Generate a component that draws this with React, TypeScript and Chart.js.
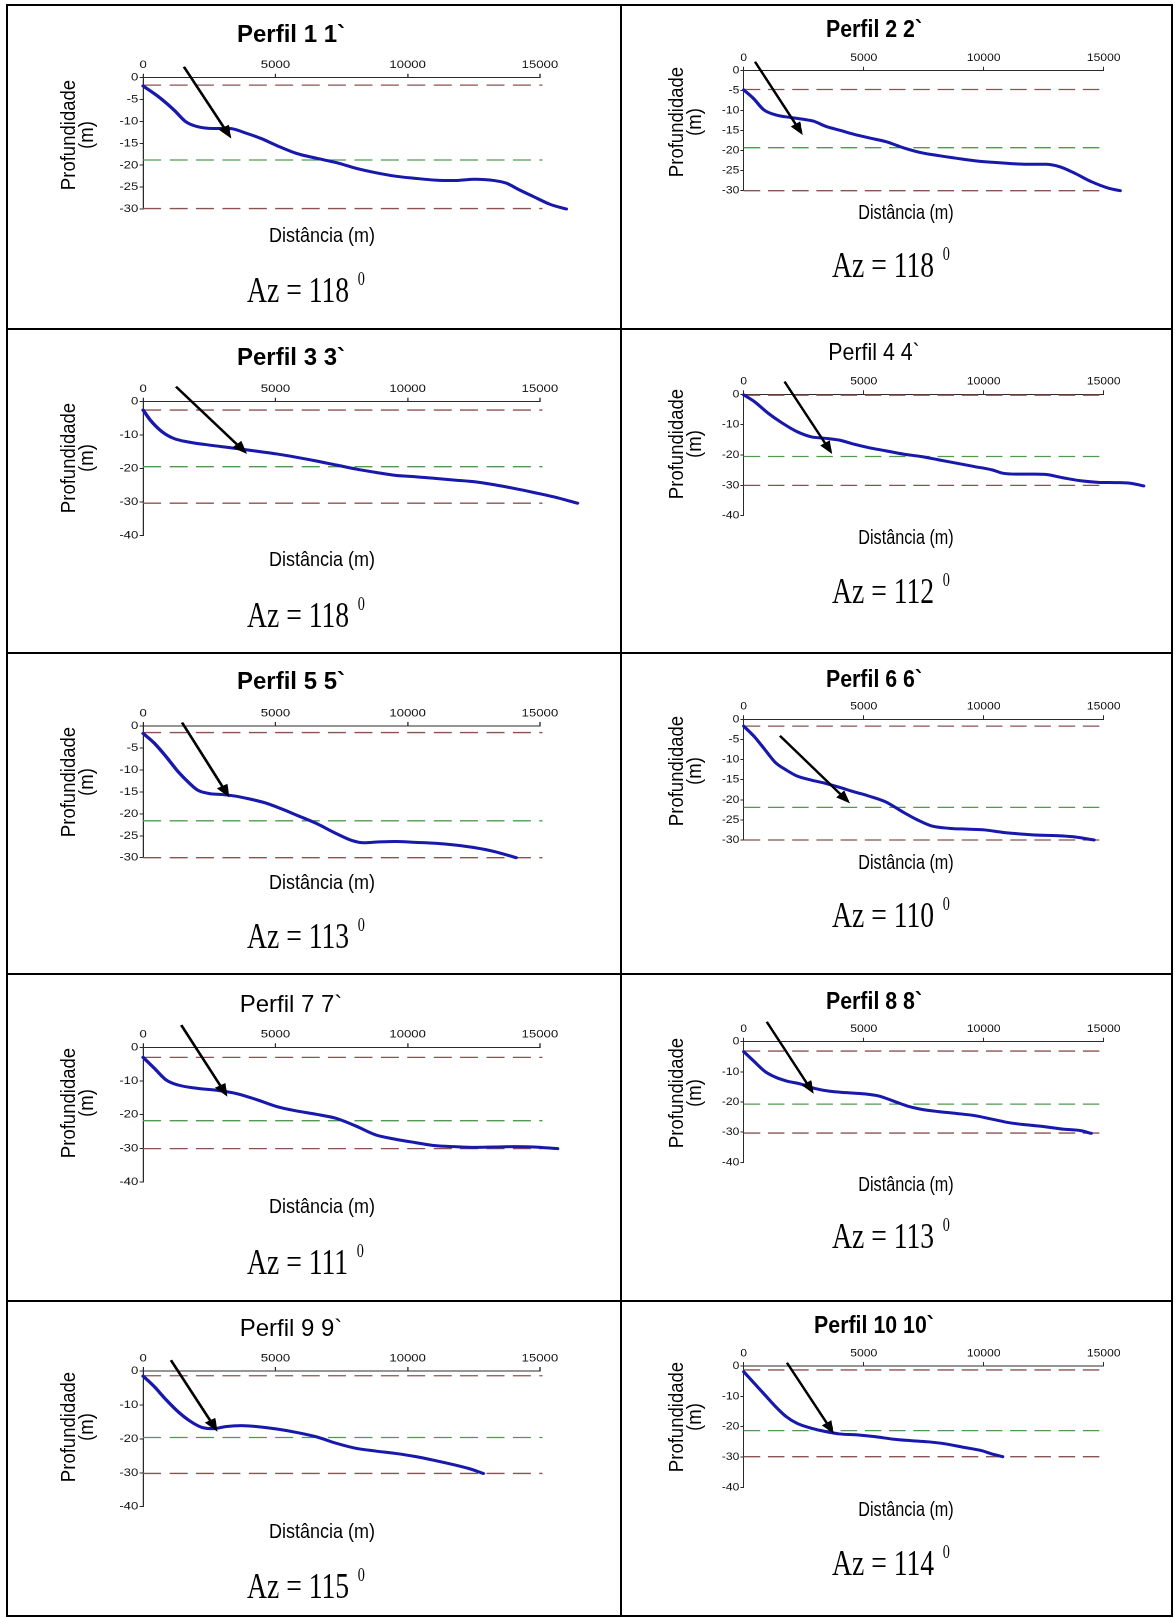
import React, { useEffect, useRef } from "react";
import { Chart, registerables } from "chart.js";
Chart.register(...registerables);

// ---------- data ----------
const TITLES = ["Perfil 1 1`", "Perfil 2 2`", "Perfil 3 3`", "Perfil 4 4`", "Perfil 5 5`", "Perfil 6 6`", "Perfil 7 7`", "Perfil 8 8`", "Perfil 9 9`", "Perfil 10 10`"];
const TITLE_BOLD = [true, true, true, false, true, true, false, true, false, true];
const AZIMUTHS = [118, 118, 118, 112, 113, 110, 111, 113, 115, 114];
const X_AXIS_TITLE = "Distância (m)";
const Y_AXIS_TITLE = ["Profundidade", "(m)"];

const X_TICKS = [0, 5000, 10000, 15000];
const Y_TICKS_30 = [0, -5, -10, -15, -20, -25, -30];
const Y_TICKS_40 = [0, -10, -20, -30, -40];
const Y_MIN = [-30, -30, -40, -40, -30, -30, -40, -40, -40, -40];

const P1_X = [0, 570, 1170, 1620, 2060, 2660, 3260, 3860, 4460, 5050, 5800, 6550, 7300, 8050, 8790, 9540, 10290, 11040, 11780, 12530, 13280, 13730, 14180, 14770, 15370, 16000];
const P1_Y = [-1.9, -4.3, -7.4, -10.1, -11.2, -11.6, -11.6, -12.6, -13.9, -15.5, -17.3, -18.4, -19.4, -20.7, -21.7, -22.5, -23.0, -23.4, -23.5, -23.2, -23.5, -24.1, -25.5, -27.2, -28.9, -30.0];
const P2_X = [0, 400, 840, 1360, 1950, 2540, 2900, 3420, 4010, 4600, 5190, 5930, 6670, 7400, 8140, 8880, 9620, 10360, 11090, 11830, 12570, 13160, 13750, 14490, 15220, 15690];
const P2_Y = [-4.8, -6.9, -9.8, -11.1, -11.7, -12.2, -12.6, -13.9, -14.9, -15.9, -16.75, -17.75, -19.3, -20.5, -21.25, -21.9, -22.5, -22.9, -23.2, -23.4, -23.4, -24.0, -25.5, -27.75, -29.4, -30];
const P3_X = [0, 270, 720, 1170, 1760, 2360, 2960, 3560, 4310, 5050, 5800, 6550, 7300, 8050, 8790, 9540, 10290, 11040, 11780, 12530, 13280, 14030, 14770, 15520, 16420];
const P3_Y = [-2.5, -5.5, -9.0, -11.0, -12.1, -12.8, -13.4, -14.0, -14.8, -15.6, -16.6, -17.7, -18.9, -20.1, -21.1, -22.0, -22.4, -22.9, -23.4, -23.9, -24.8, -25.9, -27.1, -28.4, -30.3];
const P4_X = [0, 440, 1030, 1630, 2220, 2810, 3400, 3990, 4580, 5170, 5910, 6650, 7390, 8130, 8870, 9610, 10350, 10790, 11380, 12120, 12560, 13300, 14040, 14780, 15520, 16110, 16670];
const P4_Y = [-0.2, -2.4, -6.3, -9.6, -12.3, -14.0, -14.5, -15.1, -16.4, -17.5, -18.6, -19.7, -20.5, -21.6, -22.7, -23.8, -24.9, -26.0, -26.3, -26.3, -26.4, -27.5, -28.5, -29.0, -29.1, -29.3, -30.2];
const P5_X = [0, 420, 870, 1320, 1760, 2060, 2510, 2960, 3410, 4010, 4610, 5200, 5800, 6550, 7300, 7900, 8340, 8940, 9540, 10290, 11040, 11780, 12530, 13280, 14100];
const P5_Y = [-1.7, -3.9, -7.0, -10.4, -13.1, -14.6, -15.4, -15.6, -15.9, -16.6, -17.5, -18.8, -20.3, -22.2, -24.5, -26.1, -26.6, -26.4, -26.3, -26.5, -26.7, -27.1, -27.7, -28.6, -30.0];
const P6_X = [0, 440, 890, 1330, 1770, 2220, 2810, 3400, 3990, 4580, 5170, 5910, 6650, 7240, 7830, 8570, 9310, 10050, 10790, 11530, 12270, 13010, 13740, 14600];
const P6_Y = [-1.7, -4.3, -7.6, -10.8, -12.6, -14.1, -15.1, -15.9, -16.9, -18.0, -19.0, -20.5, -23.1, -25.0, -26.5, -27.1, -27.3, -27.5, -28.1, -28.5, -28.8, -28.9, -29.2, -30.0];
const P7_X = [0, 420, 870, 1320, 2060, 2810, 3560, 4310, 5050, 5800, 6550, 7300, 8050, 8790, 9540, 10290, 11040, 11780, 12530, 13280, 14030, 14770, 15670];
const P7_Y = [-3.0, -6.2, -9.7, -11.2, -12.2, -12.8, -13.8, -15.6, -17.6, -18.9, -19.9, -21.1, -23.4, -26.0, -27.3, -28.3, -29.2, -29.5, -29.7, -29.6, -29.5, -29.6, -30.1];
const P8_X = [0, 440, 890, 1330, 1770, 2360, 2960, 3550, 4290, 5030, 5620, 6210, 6800, 7390, 8130, 8870, 9610, 10350, 11090, 11820, 12560, 13300, 14040, 14480];
const P8_Y = [-3.3, -6.6, -9.9, -11.8, -13.0, -14.0, -15.5, -16.4, -16.9, -17.3, -18.0, -19.6, -21.3, -22.4, -23.2, -23.8, -24.5, -25.7, -26.9, -27.6, -28.2, -29.0, -29.5, -30.4];
const P9_X = [0, 420, 870, 1320, 1760, 2210, 2660, 3110, 3710, 4310, 5050, 5800, 6550, 7300, 8050, 8790, 9540, 10290, 11040, 11780, 12380, 12860];
const P9_Y = [-1.5, -4.6, -8.5, -12.0, -14.7, -16.6, -17.0, -16.4, -16.1, -16.4, -17.1, -18.1, -19.4, -21.3, -22.8, -23.6, -24.3, -25.2, -26.4, -27.7, -28.9, -30.2];
const P10_X = [0, 440, 890, 1330, 1770, 2220, 2810, 3400, 3990, 4730, 5470, 6210, 6950, 7690, 8420, 9160, 9900, 10340, 10790];
const P10_Y = [-1.9, -5.7, -9.6, -13.4, -16.7, -18.9, -20.5, -21.6, -22.4, -22.7, -23.3, -24.1, -24.6, -25.0, -25.7, -26.8, -27.9, -29.0, -29.9];

const PROFILE_X = [P1_X, P2_X, P3_X, P4_X, P5_X, P6_X, P7_X, P8_X, P9_X, P10_X];
const PROFILE_Y = [P1_Y, P2_Y, P3_Y, P4_Y, P5_Y, P6_Y, P7_Y, P8_Y, P9_Y, P10_Y];

// reference depth levels (dashed lines)
const LEVEL_TOP = [-1.7, -4.7, -2.5, -0.3, -1.5, -1.7, -3.0, -3.1, -1.4, -1.3];
const LEVEL_MID = [-18.8, -19.25, -19.4, -20.5, -21.6, -21.9, -21.8, -20.7, -19.6, -21.3];
const LEVEL_BOTTOM = [-29.9, -30, -30.3, -30, -30, -30, -30.1, -30.3, -30.2, -29.9];
const LEVEL_X_END = 15100;

// arrows (data units)
const ARROW_FROM_X = [1540, 470, 1240, 1700, 1470, 1510, 1440, 960, 1050, 1800];
const ARROW_FROM_Y = [2.5, 2.25, 4.5, 4.2, 0.8, -4.1, 6.6, 6.6, 3.2, 1.1];
const ARROW_TO_X = [3330, 2460, 3930, 3690, 3260, 4430, 3190, 2920, 2810, 3760];
const ARROW_TO_Y = [-13.9, -16.1, -15.6, -19.7, -16.3, -20.9, -14.7, -17.3, -17.9, -22.4];

// ---------- layout / style ----------
const SANS = "'Liberation Sans', Arial, Helvetica, sans-serif";
const SERIF = "'Liberation Serif', 'Times New Roman', serif";
const BLUE = "#1818ac";
const BROWN = "#8a5252";
const GREEN = "#4f9a4f";
const AXIS = "#2a2a2a";

const COL_CANVAS_LEFT = [10, 624];
const COL_CANVAS_PAGE_W = [605, 544];
const COL_STRETCH = [1.2, 1.1];
const ROW_CANVAS_TOP = [6, 330, 654, 975, 1302];
const AXIS_LEFT = [143.1, 743.6];
const AXIS_RIGHT = [539.7, 1103.2];
const AXIS_TOP = [77.7, 70.7, 401.7, 394.3, 726, 719.3, 1047.3, 1041.7, 1371, 1366];
const AXIS_BOTTOM = [209, 190.7, 535.7, 515.7, 857.7, 840, 1182, 1162.3, 1506.7, 1487.3];

const TITLE_X = [291, 874];
const TITLE_SX = [1.0, 0.89];
const TITLE_BASE = [42, 37, 365, 360, 689, 687, 1012, 1009, 1336, 1333];
const XT_X = [322, 906];
const XT_SX = [1.0, 0.9];
const XT_BASE = [242.5, 219.5, 566.5, 544.5, 889.5, 869.5, 1213.5, 1191.5, 1538.5, 1516.5];
const YT_X = [77, 685];
const YT_Y = [135, 122, 458, 444, 782, 771, 1103, 1093, 1427, 1417];
const AZ_X = [247, 831.5];
const AZ_SX = 0.79;
const AZ_BASE = [302, 277, 627, 603, 948, 927, 1274, 1248, 1598, 1575];

const arrowPlugin = {
  id: "arrow",
  afterDatasetsDraw(chart: any, _args: any, opts: any) {
    const { ctx } = chart;
    const xs = chart.scales.x;
    const ys = chart.scales.y;
    const x1 = xs.getPixelForValue(opts.fx);
    const y1 = ys.getPixelForValue(opts.fy);
    const x2 = xs.getPixelForValue(opts.tx);
    const y2 = ys.getPixelForValue(opts.ty);
    const ang = Math.atan2(y2 - y1, x2 - x1);
    const c = Math.cos(ang);
    const s = Math.sin(ang);
    const headLen = 13;
    const headW = 5;
    const bx = x2 - headLen * c;
    const by = y2 - headLen * s;
    ctx.save();
    ctx.strokeStyle = "#000";
    ctx.fillStyle = "#000";
    ctx.lineWidth = 2.3;
    ctx.beginPath();
    ctx.moveTo(x1, y1);
    ctx.lineTo(bx + c, by + s);
    ctx.stroke();
    ctx.beginPath();
    ctx.moveTo(x2, y2);
    ctx.lineTo(bx + headW * s, by - headW * c);
    ctx.lineTo(bx - headW * s, by + headW * c);
    ctx.closePath();
    ctx.fill();
    ctx.restore();
  },
};

function Panel({ i }: { i: number }) {
  const ref = useRef<HTMLCanvasElement | null>(null);
  const col = i % 2;
  const row = Math.floor(i / 2);
  const s = COL_STRETCH[col];
  const left = COL_CANVAS_LEFT[col];
  const top = ROW_CANVAS_TOP[row];
  const W = Math.round(COL_CANVAS_PAGE_W[col] / s);
  const chartLeft = (AXIS_LEFT[col] - left) / s;
  const chartRight = (AXIS_RIGHT[col] - left) / s;
  const chartTop = AXIS_TOP[i] - top;
  const chartBottom = AXIS_BOTTOM[i] - top;
  const H = Math.ceil(chartBottom + 26);

  useEffect(() => {
    const canvas = ref.current;
    if (!canvas) return;
    const xs = PROFILE_X[i];
    const ys = PROFILE_Y[i];
    const profile = xs.map((x, k) => ({ x, y: ys[k] }));
    const level = (v: number, color: string) => ({
      data: [{ x: 0, y: v }, { x: LEVEL_X_END, y: v }],
      borderColor: color,
      borderWidth: 1.3,
      borderDash: [15, 7],
      pointRadius: 0,
      clip: false,
      order: 1,
      tension: 0,
    });
    const yTicks = Y_MIN[i] === -30 ? Y_TICKS_30 : Y_TICKS_40;
    const tickFont = { family: SANS, size: 11 };
    const chart = new Chart(canvas, {
      type: "line",
      data: {
        datasets: [
          {
            data: profile,
            borderColor: BLUE,
            borderWidth: 3,
            pointRadius: 0,
            cubicInterpolationMode: "monotone",
            borderJoinStyle: "round",
            borderCapStyle: "round",
            clip: false,
            order: 0,
          } as any,
          level(LEVEL_TOP[i], BROWN),
          level(LEVEL_MID[i], GREEN),
          level(LEVEL_BOTTOM[i], BROWN),
        ],
      },
      options: {
        responsive: false,
        animation: false,
        devicePixelRatio: 2,
        events: [],
        layout: {
          padding: { left: 0, top: 0, right: W - chartRight, bottom: H - chartBottom },
        },
        plugins: {
          legend: { display: false },
          tooltip: { enabled: false },
          arrow: { fx: ARROW_FROM_X[i], fy: ARROW_FROM_Y[i], tx: ARROW_TO_X[i], ty: ARROW_TO_Y[i] },
        } as any,
        scales: {
          x: {
            type: "linear",
            position: "top",
            bounds: "data",
            afterDataLimits: (sc: any) => {
              sc.min = X_TICKS[0];
              sc.max = X_TICKS[X_TICKS.length - 1];
            },
            afterBuildTicks: (sc: any) => {
              sc.ticks = X_TICKS.map((v) => ({ value: v }));
            },
            afterFit: (sc: any) => {
              sc.height = chartTop;
            },
            ticks: {
              font: tickFont,
              color: "#111",
              padding: 2,
              maxRotation: 0,
              autoSkip: false,
              callback: (v: any) => String(v),
            },
            grid: { display: true, drawOnChartArea: false, drawTicks: true, tickLength: 4, color: AXIS },
            border: { display: true, color: AXIS, width: 1 },
          },
          y: {
            type: "linear",
            position: "left",
            bounds: "data",
            afterDataLimits: (sc: any) => {
              sc.min = Y_MIN[i];
              sc.max = 0;
            },
            afterBuildTicks: (sc: any) => {
              sc.ticks = yTicks.map((v) => ({ value: v }));
            },
            afterFit: (sc: any) => {
              sc.width = chartLeft;
            },
            ticks: {
              font: tickFont,
              color: "#111",
              padding: 1,
              autoSkip: false,
              callback: (v: any) => String(v),
            },
            grid: { display: true, drawOnChartArea: false, drawTicks: true, tickLength: 3, color: AXIS },
            border: { display: true, color: AXIS, width: 1 },
          },
        },
      } as any,
      plugins: [arrowPlugin],
    });
    return () => chart.destroy();
  }, [i]);

  return (
    <canvas
      ref={ref}
      width={W}
      height={H}
      style={{ position: "absolute", left, top, width: W * s, height: H }}
    />
  );
}

function BaseText(props: {
  x: number;
  y: number;
  size: number;
  family: string;
  weight?: string | number;
  center?: boolean;
  sx?: number;
  sy?: number;
  children: any;
}) {
  const { x, y, size, family, weight, center, sx, sy, children } = props;
  const asc = family === SERIF ? 0.8375 : 0.8465;
  const b = size * asc;
  const tx = center ? "translateX(-50%) " : "";
  return (
    <div
      style={{
        position: "absolute",
        left: x,
        top: y - b,
        fontSize: size,
        lineHeight: `${size}px`,
        fontFamily: family,
        fontWeight: weight || "normal",
        whiteSpace: "nowrap",
        color: "#000",
        transformOrigin: `${center ? "50%" : "0"} ${b}px`,
        transform: `${tx}scale(${sx || 1}, ${sy || 1})`,
      }}
    >
      {children}
    </div>
  );
}

function Texts({ i }: { i: number }) {
  const col = i % 2;
  return (
    <>
      <BaseText x={TITLE_X[col]} y={TITLE_BASE[i]} size={24} family={SANS} weight={TITLE_BOLD[i] ? "bold" : "normal"} center sx={TITLE_SX[col]}>
        {TITLES[i]}
      </BaseText>
      <BaseText x={XT_X[col]} y={XT_BASE[i]} size={18} family={SANS} center sx={XT_SX[col]} sy={1.1}>
        {X_AXIS_TITLE}
      </BaseText>
      <div
        style={{
          position: "absolute",
          left: YT_X[col],
          top: YT_Y[i],
          fontFamily: SANS,
          fontSize: 18,
          lineHeight: "16px",
          textAlign: "center",
          whiteSpace: "nowrap",
          color: "#000",
          transform: "translate(-50%, -50%) rotate(-90deg) scale(1.03, 1.15)",
        }}
      >
        {Y_AXIS_TITLE[0]}
        <br />
        {Y_AXIS_TITLE[1]}
      </div>
      <BaseText x={AZ_X[col]} y={AZ_BASE[i]} size={35} family={SERIF} sx={AZ_SX}>
        {"Az = " + AZIMUTHS[i]}
        <span style={{ fontSize: 18, lineHeight: 1, position: "relative", top: -17, marginLeft: 11 }}>0</span>
      </BaseText>
    </>
  );
}

const V_LINES = [6, 620, 1171];
const H_LINES = [4, 328, 652, 973, 1300, 1615];

export default function App() {
  const idx = TITLES.map((_, k) => k);
  return (
    <div style={{ position: "absolute", left: 0, top: 0, width: 1175, height: 1618, background: "#fff", overflow: "hidden" }}>
      {V_LINES.map((x) => (
        <div key={"v" + x} style={{ position: "absolute", left: x, top: H_LINES[0], width: 2, height: H_LINES[H_LINES.length - 1] - H_LINES[0] + 2, background: "#000" }} />
      ))}
      {H_LINES.map((y) => (
        <div key={"h" + y} style={{ position: "absolute", left: V_LINES[0], top: y, width: V_LINES[V_LINES.length - 1] - V_LINES[0] + 2, height: 2, background: "#000" }} />
      ))}
      {idx.map((k) => (
        <Panel key={"p" + k} i={k} />
      ))}
      {idx.map((k) => (
        <Texts key={"t" + k} i={k} />
      ))}
    </div>
  );
}
